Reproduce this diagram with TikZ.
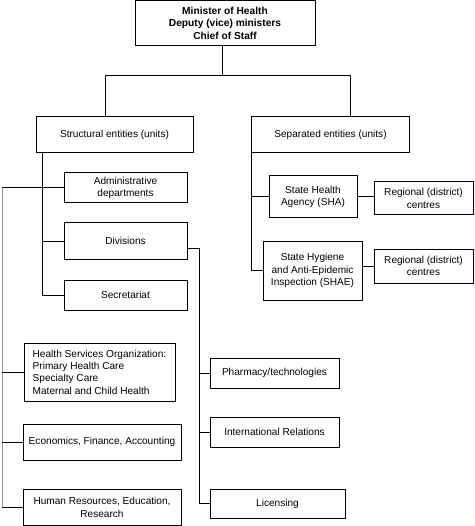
\documentclass[tikz,border=0pt]{standalone}
\usepackage{fontspec}
\setmainfont{Liberation Sans}
\begin{document}
\begin{tikzpicture}[x=1pt,y=-1pt,
  box/.style={draw, line width=1pt, inner sep=0pt, align=center,
    font=\fontsize{10.1}{12.4}\selectfont},
  conn/.style={line width=1pt},
  faint/.style={line width=1pt, draw=black!40}]
\useasboundingbox (0,0) rectangle (474,526);
% boxes
\node[box, font=\bfseries\fontsize{10.2}{12.5}\selectfont, minimum width=180pt, minimum height=45.5pt] (top) at (225,23.25)
  {Minister of Health\\Deputy (vice) ministers\\Chief of Staff};
\node[box, minimum width=157pt, minimum height=36pt] (struct) at (114.5,135) {Structural entities (units)};
\node[box, minimum width=158pt, minimum height=36pt] (sep) at (330.5,135) {Separated entities (units)};
\node[box, minimum width=123pt, minimum height=30pt] (admin) at (125.5,188) {Administrative\\departments};
\node[box, minimum width=123pt, minimum height=36pt] (div) at (125.5,241) {Divisions};
\node[box, minimum width=123pt, minimum height=30pt] (secr) at (125.5,295) {Secretariat};
\node[box, minimum width=88pt, minimum height=42pt] (sha) at (313,197) {State Health\\Agency (SHA)};
\node[box, minimum width=99pt, minimum height=33pt] (reg1) at (423.5,198.5) {Regional (district)\\centres};
\node[box, minimum width=99pt, minimum height=59pt] (shae) at (312.5,270.5) {State Hygiene\\and Anti-Epidemic\\Inspection (SHAE)};
\node[box, minimum width=99pt, minimum height=34pt] (reg2) at (423.5,266) {Regional (district)\\centres};
\node[box, align=left, minimum width=151pt, minimum height=58pt] (health) at (99.5,372)
  {Health Services Organization:\\Primary Health Care\\Specialty Care\\Maternal and Child Health};
\node[box, minimum width=158pt, minimum height=36pt] (econ) at (102,442) {Economics, Finance, Accounting};
\node[box, minimum width=158pt, minimum height=35.5pt] (hr) at (102,507.25) {Human Resources, Education,\\Research};
\node[box, minimum width=129pt, minimum height=30pt] (pharm) at (274.5,373) {Pharmacy/technologies};
\node[box, minimum width=129pt, minimum height=30pt] (intl) at (274.5,432) {International Relations};
\node[box, minimum width=135pt, minimum height=29pt] (lic) at (277.5,503.5) {Licensing};
% helper coordinates
\coordinate (b1) at (105,76);
\coordinate (b2) at (350,76);
\coordinate (t1) at (42,0);
\coordinate (t2) at (251.5,0);
\coordinate (t3) at (199,0);
\coordinate (l0) at (2,188);
\coordinate (divout) at (187,248);
% top level
\draw[conn] ([xshift=-3pt]top.south) -- ([xshift=-3pt]top.south |- b1);
\draw[conn] (b1 |- struct.north) -- (b1) -- (b2) -- (b2 |- sep.north);
% structural trunk
\draw[conn] (t1 |- struct.south) |- (secr.west);
\draw[conn] (t1 |- admin.west) -- (admin.west);
\draw[conn] (t1 |- div.west) -- (div.west);
\draw[conn] (l0) -- (t1 |- l0);
% left faint trunk
\draw[faint] (l0) -- (l0 |- hr.west);
\draw[conn] (l0 |- health.west) -- (health.west);
\draw[conn] (l0 |- econ.west) -- (econ.west);
\draw[conn] (l0 |- hr.west) -- (hr.west);
% divisions trunk
\draw[conn] (divout) -| (t3 |- lic.west) -- (lic.west);
\draw[conn] (t3 |- pharm.west) -- (pharm.west);
\draw[conn] (t3 |- intl.west) -- (intl.west);
% separated trunk
\draw[conn] (t2 |- sep.south) |- (shae.west);
\draw[conn] (t2 |- sha.west) -- (sha.west);
\draw[conn] (sha.east) -- (sha.east -| reg1.west);
\draw[conn] (shae.east |- reg2.west) -- (reg2.west);
\end{tikzpicture}
\end{document}
